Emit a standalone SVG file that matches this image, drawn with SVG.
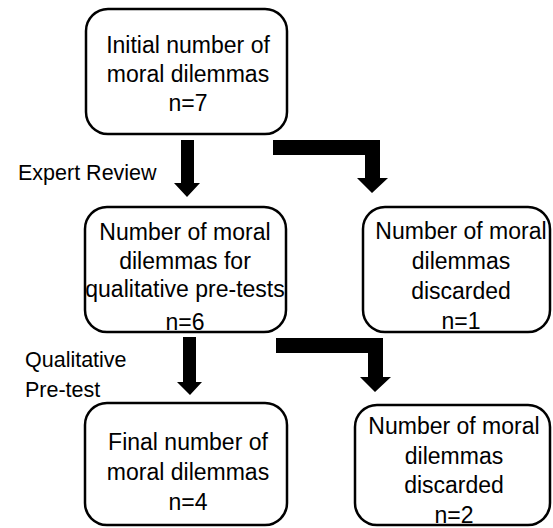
<svg xmlns="http://www.w3.org/2000/svg" width="553" height="528" viewBox="0 0 553 528">
<style>
.box{fill:#fff;stroke:#000;stroke-width:2.5}
.t{font-family:"Liberation Sans",Arial,sans-serif;font-size:23px;fill:#000;text-anchor:middle}
.l{font-family:"Liberation Sans",Arial,sans-serif;font-size:21.5px;fill:#000}
.arr{fill:#000}
</style>
<rect width="553" height="528" fill="#fff"/>
<g id="connectors">
<polygon class="arr" points="181,140 194,140 194,183 200,183 187,197 174,183 181,183"/>
<polygon class="arr" points="273,140 380,140 380,178 388,178 372,193 357,178 365,178 365,155 273,155"/>
<polygon class="arr" points="183,337 196,337 196,382 202,382 190,395 177,382 183,382"/>
<polygon class="arr" points="276,338 383,338 383,377 391,377 375,392 360,377 368,377 368,353 276,353"/>
</g>
<g id="label-expert">
<text class="l" x="18" y="180">Expert Review</text>
</g>
<g id="label-qualitative">
<text class="l" x="25" y="367">Qualitative</text>
<text class="l" x="25" y="397">Pre-test</text>
</g>
<g id="node-initial">
<rect class="box" x="86" y="9" width="201" height="125" rx="22"/>
<text class="t" x="188" y="53">Initial number of</text>
<text class="t" x="188" y="82">moral dilemmas</text>
<text class="t" x="188" y="111">n=7</text>
</g>
<g id="node-qualitative">
<rect class="box" x="85" y="207" width="201" height="125" rx="22"/>
<text class="t" x="185" y="240">Number of moral</text>
<text class="t" x="185" y="269">dilemmas for</text>
<text class="t" x="185" y="297">qualitative pre-tests</text>
<text class="t" x="185" y="330">n=6</text>
</g>
<g id="node-discarded1">
<rect class="box" x="363" y="207" width="187" height="125" rx="22"/>
<text class="t" x="461" y="239">Number of moral</text>
<text class="t" x="461" y="269">dilemmas</text>
<text class="t" x="461" y="299">discarded</text>
<text class="t" x="461" y="329">n=1</text>
</g>
<g id="node-final">
<rect class="box" x="85" y="403" width="202" height="122" rx="22"/>
<text class="t" x="188" y="450">Final number of</text>
<text class="t" x="188" y="480">moral dilemmas</text>
<text class="t" x="188" y="510">n=4</text>
</g>
<g id="node-discarded2">
<rect class="box" x="355" y="405" width="195" height="120" rx="22"/>
<text class="t" x="454" y="434">Number of moral</text>
<text class="t" x="454" y="464">dilemmas</text>
<text class="t" x="454" y="493">discarded</text>
<text class="t" x="454" y="523">n=2</text>
</g>
</svg>
